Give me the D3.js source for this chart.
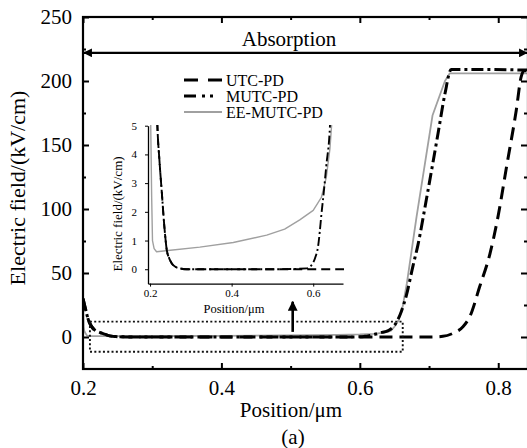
<!DOCTYPE html>
<html>
<head>
<meta charset="utf-8">
<script src="https://cdn.jsdelivr.net/npm/d3@7"></script>
<style>
  body { margin: 0; background: #fff; }
  svg { display: block; }
  text { font-family: "Liberation Serif", "Times New Roman", serif; fill: #000; }
</style>
</head>
<body>
<svg id="chart" width="527" height="448"></svg>
<script>
// Electric field profiles along the device (position in µm, field in kV/cm)
const seriesNames = ["UTC-PD", "MUTC-PD", "EE-MUTC-PD"];

const utcPos   = [0.2, 0.204, 0.208, 0.212, 0.218, 0.223, 0.229, 0.235, 0.241, 0.247, 0.253, 0.263, 0.273, 0.29, 0.4, 0.5, 0.6, 0.7, 0.72, 0.735, 0.749, 0.759, 0.773, 0.788, 0.8, 0.812, 0.826, 0.833, 0.837, 0.843];
const utcField = [30, 21, 13, 8.5, 5, 3.8, 2.65, 1.5, 0.67, 0.38, 0.21, 0.08, 0.03, 0, 0, 0, 0, 0, 0.5, 3, 8, 16, 39, 65, 95, 133, 177, 203, 208, 208];

const mutcPos   = [0.2, 0.204, 0.208, 0.212, 0.218, 0.223, 0.229, 0.235, 0.241, 0.247, 0.253, 0.263, 0.273, 0.29, 0.4, 0.5, 0.584, 0.593, 0.6, 0.606, 0.612, 0.616, 0.62, 0.626, 0.632, 0.641, 0.65, 0.66, 0.667, 0.677, 0.684, 0.696, 0.713, 0.723, 0.732, 0.78, 0.843];
const mutcField = [30, 21, 13, 8.5, 5, 3.8, 2.65, 1.5, 0.67, 0.38, 0.21, 0.08, 0.03, 0, 0, 0, 0.03, 0.1, 0.23, 0.45, 0.8, 1.3, 1.9, 2.7, 3.6, 5, 9, 20, 32, 56, 72, 107, 159, 190, 209, 209, 208.5];

const eePos   = [0.2, 0.201, 0.2017, 0.204, 0.206, 0.21, 0.216, 0.25, 0.322, 0.404, 0.486, 0.53, 0.567, 0.6, 0.62, 0.632, 0.641, 0.645, 0.65, 0.656, 0.662, 0.668, 0.675, 0.682, 0.705, 0.723, 0.73, 0.843];
const eeField = [28, 8, 5, 2.5, 1.0, 0.72, 0.61, 0.66, 0.77, 0.93, 1.19, 1.4, 1.72, 2.05, 2.5, 3.2, 4.2, 5, 8, 13, 24, 42, 68, 94, 173, 200, 206, 206];

// Axis ticks
const xMajor = [0.2, 0.4, 0.6, 0.8];
const xMinor = [0.3, 0.5, 0.7];
const yMajor = [0, 50, 100, 150, 200, 250];
const yMinor = [25, 75, 125, 175, 225];
const insetXTicks = [0.2, 0.4, 0.6];
const insetYTicks = [0, 1, 2, 3, 4, 5];

// Absorption region marker and the zoom box around the low-field part
const absorptionField = 222;
const zoomBox = { x0: 0.21, x1: 0.662, y0: -11.5, y1: 12 };
const zoomArrow = { x: 0.503, from: 4, to: 33 };

const svg = d3.select("#chart");

const x = d3.scaleLinear().domain([0.2, 0.843]).range([83, 528]);
const y = d3.scaleLinear().domain([-25, 250]).range([369, 17]);

const toPoints = (xs, vs) => xs.map((p, i) => ({ p, v: vs[i] }));
const series = [
  { name: seriesNames[0], data: toPoints(utcPos, utcField),   color: "#000", curve: d3.curveMonotoneX, main: { w: 3, dash: "13,7" },     inset: { w: 1.9, dash: "9,5" } },
  { name: seriesNames[1], data: toPoints(mutcPos, mutcField), color: "#000", curve: d3.curveMonotoneX, main: { w: 3, dash: "12,4,3,4" }, inset: { w: 1.9, dash: "9,3,2,3" } },
  { name: seriesNames[2], data: toPoints(eePos, eeField),     color: "#a0a0a0", curve: d3.curveLinear, main: { w: 1.8, dash: null },     inset: { w: 1.4, dash: null } }
];

const defs = svg.append("defs");
defs.append("clipPath").attr("id", "mainClip")
  .append("rect").attr("x", 83).attr("y", 17).attr("width", 445).attr("height", 352);
defs.append("marker").attr("id", "headSmall").attr("viewBox", "0 0 10 10")
  .attr("refX", 9).attr("refY", 5).attr("markerWidth", 4).attr("markerHeight", 4)
  .attr("orient", "auto-start-reverse").attr("markerUnits", "strokeWidth")
  .append("path").attr("d", "M0,0 L10,5 L0,10 z").attr("fill", "#000");
defs.append("marker").attr("id", "headUp").attr("viewBox", "0 0 10 10")
  .attr("refX", 9).attr("refY", 5).attr("markerWidth", 4).attr("markerHeight", 3.8)
  .attr("orient", "auto").attr("markerUnits", "strokeWidth")
  .append("path").attr("d", "M0,0 L10,5 L0,10 z").attr("fill", "#000");

// ---- main curves ----
const mainG = svg.append("g").attr("clip-path", "url(#mainClip)");
series.slice().reverse().forEach(s => {
  const line = d3.line().x(d => x(d.p)).y(d => y(d.v)).curve(s.curve);
  mainG.append("path").datum(s.data)
    .attr("d", line)
    .attr("fill", "none")
    .attr("stroke", s.color)
    .attr("stroke-width", s.main.w)
    .attr("stroke-dasharray", s.main.dash)
    .attr("stroke-linejoin", "round");
});

// zoom box (dotted)
svg.append("rect")
  .attr("x", x(zoomBox.x0)).attr("y", y(zoomBox.y1))
  .attr("width", x(zoomBox.x1) - x(zoomBox.x0))
  .attr("height", y(zoomBox.y0) - y(zoomBox.y1))
  .attr("fill", "none").attr("stroke", "#111")
  .attr("stroke-width", 1.9).attr("stroke-dasharray", "2,2.3");

// arrow pointing up to the inset
svg.append("line")
  .attr("x1", x(zoomArrow.x)).attr("x2", x(zoomArrow.x))
  .attr("y1", y(zoomArrow.from)).attr("y2", y(zoomArrow.to) + 7)
  .attr("stroke", "#000").attr("stroke-width", 2.6)
  .attr("marker-end", "url(#headUp)");

// absorption span
svg.append("line")
  .attr("x1", x(0.2) + 1).attr("x2", x(0.843) - 1)
  .attr("y1", y(absorptionField)).attr("y2", y(absorptionField))
  .attr("stroke", "#000").attr("stroke-width", 2.2)
  .attr("marker-start", "url(#headSmall)").attr("marker-end", "url(#headSmall)");
svg.append("text")
  .attr("x", 289).attr("y", 46)
  .attr("text-anchor", "middle").attr("font-size", 21)
  .text("Absorption");

// ---- main axes ----
function styleAxis(g) {
  g.select(".domain").remove();
  g.selectAll(".tick line").attr("stroke", "#000").attr("stroke-width", 2);
  g.selectAll("text").attr("font-size", 21).attr("font-family", "Liberation Serif, Times New Roman, serif");
}
const fmt = d3.format(".1f");

svg.append("g").attr("transform", `translate(0,${y(-25)})`)
  .call(d3.axisBottom(x).tickValues(xMajor).tickSize(-6).tickPadding(11).tickFormat(fmt))
  .call(styleAxis);
svg.append("g").attr("transform", `translate(0,${y(-25)})`)
  .call(d3.axisBottom(x).tickValues(xMinor).tickSize(-3).tickFormat(""))
  .call(styleAxis);
svg.append("g").attr("transform", `translate(0,${y(250)})`)
  .call(d3.axisTop(x).tickValues(xMajor).tickSize(-6).tickFormat(""))
  .call(styleAxis);
svg.append("g").attr("transform", `translate(0,${y(250)})`)
  .call(d3.axisTop(x).tickValues(xMinor).tickSize(-3).tickFormat(""))
  .call(styleAxis);

svg.append("g").attr("transform", `translate(${x(0.2)},0)`)
  .call(d3.axisLeft(y).tickValues(yMajor).tickSize(-6).tickPadding(11))
  .call(styleAxis);
svg.append("g").attr("transform", `translate(${x(0.2)},0)`)
  .call(d3.axisLeft(y).tickValues(yMinor).tickSize(-3).tickFormat(""))
  .call(styleAxis);
svg.append("g").attr("transform", `translate(${x(0.843)},0)`)
  .call(d3.axisRight(y).tickValues(yMajor).tickSize(-7).tickFormat(""))
  .call(styleAxis);
svg.append("g").attr("transform", `translate(${x(0.843)},0)`)
  .call(d3.axisRight(y).tickValues(yMinor).tickSize(-4).tickFormat(""))
  .call(styleAxis);

// frame
svg.append("rect")
  .attr("x", x(0.2)).attr("y", y(250))
  .attr("width", x(0.843) - x(0.2)).attr("height", y(-25) - y(250))
  .attr("fill", "none").attr("stroke", "#000").attr("stroke-width", 2.2);

// axis titles
svg.append("text")
  .attr("transform", `translate(25,188) rotate(-90)`)
  .attr("text-anchor", "middle").attr("font-size", 22)
  .text("Electric field/(kV/cm)");
svg.append("text")
  .attr("x", 291).attr("y", 417)
  .attr("text-anchor", "middle").attr("font-size", 21)
  .text("Position/μm");
svg.append("text")
  .attr("x", 293).attr("y", 444)
  .attr("text-anchor", "middle").attr("font-size", 21)
  .text("(a)");

// ---- legend ----
const legendY = [80, 96, 112];
const legend = svg.append("g");
const legendDash = ["14,10", "12,6,3,5,3,30", null];
series.forEach((s, i) => {
  legend.append("line")
    .attr("x1", 184).attr("x2", 222)
    .attr("y1", legendY[i]).attr("y2", legendY[i])
    .attr("stroke", s.color)
    .attr("stroke-width", i === 2 ? 2 : 3)
    .attr("stroke-dasharray", legendDash[i]);
  legend.append("text")
    .attr("x", 226).attr("y", legendY[i] + 5.5)
    .attr("font-size", 16)
    .text(s.name);
});

// ---- inset: low-field region ----
const xi = d3.scaleLinear().domain([0.195, 0.673]).range([148, 343]);
const yi = d3.scaleLinear().domain([-0.5, 5]).range([283.6, 125.7]);

defs.append("clipPath").attr("id", "insetClip")
  .append("rect").attr("x", 148).attr("y", 125).attr("width", 196).attr("height", 159);

const insetG = svg.append("g").attr("clip-path", "url(#insetClip)");
series.slice().reverse().forEach(s => {
  const line = d3.line().x(d => xi(d.p)).y(d => yi(d.v)).curve(s.curve);
  insetG.append("path").datum(s.data.filter(d => d.p <= 0.7))
    .attr("d", line)
    .attr("fill", "none")
    .attr("stroke", s.color)
    .attr("stroke-width", s.inset.w)
    .attr("stroke-dasharray", s.inset.dash)
    .attr("stroke-linejoin", "round");
});

function styleInset(g) {
  g.select(".domain").attr("stroke", "#000").attr("stroke-width", 1.3);
  g.selectAll(".tick line").attr("stroke", "#000").attr("stroke-width", 1);
  g.selectAll("text").attr("font-size", 11).attr("font-family", "Liberation Serif, Times New Roman, serif");
}
svg.append("g").attr("transform", `translate(0,${yi(-0.5)})`)
  .call(d3.axisBottom(xi).tickValues(insetXTicks).tickSize(3).tickSizeOuter(0).tickPadding(3).tickFormat(fmt))
  .call(styleInset);
svg.append("g").attr("transform", `translate(${xi(0.195)},0)`)
  .call(d3.axisLeft(yi).tickValues(insetYTicks).tickSize(3).tickSizeOuter(0).tickPadding(8).tickFormat(d3.format("d")))
  .call(styleInset);

svg.append("text")
  .attr("transform", `translate(122,214) rotate(-90)`)
  .attr("text-anchor", "middle").attr("font-size", 13)
  .text("Electric field/(kV/cm)");
svg.append("text")
  .attr("x", 234).attr("y", 313)
  .attr("text-anchor", "middle").attr("font-size", 12.5)
  .text("Position/μm");
</script>
</body>
</html>
